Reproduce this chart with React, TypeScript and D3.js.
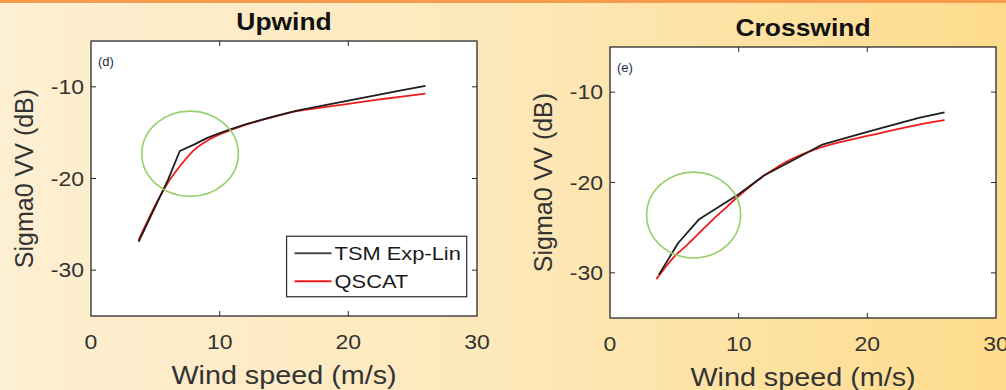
import React from "react";
import * as d3 from "d3";

// Axis ticks
const windTicks = [0, 10, 20, 30];
const sigmaTicks = [-30, -20, -10];

// Upwind: TSM Exp-Lin model and QSCAT GMF (wind m/s, sigma0 dB)
const upTsmWind = [3.7, 6.0, 6.9, 8, 9, 10, 11, 12, 14, 16, 18, 20, 22, 24, 26];
const upTsmSigma = [-26.9, -20.1, -17.0, -16.3, -15.6, -15.05, -14.55, -14.1, -13.3, -12.6, -12.05, -11.5, -10.95, -10.42, -9.9];
const upQscatWind = [3.7, 4, 5, 6, 7, 8, 9, 10, 11, 12, 14, 16, 18, 20, 22, 24, 26];
const upQscatSigma = [-26.7, -25.8, -22.9, -20.4, -18.5, -16.9, -15.9, -15.2, -14.65, -14.15, -13.35, -12.65, -12.25, -11.85, -11.45, -11.1, -10.75];

// Crosswind
const crTsmWind = [3.8, 5.3, 6.9, 10, 12, 14, 16.5, 20, 24, 26];
const crTsmSigma = [-30.2, -26.7, -24.1, -21.3, -19.2, -17.7, -15.8, -14.4, -12.85, -12.25];
const crQscatWind = [3.6, 5, 6, 7, 8, 9, 10, 11, 12, 13, 14, 16, 18, 20, 22, 24, 26];
const crQscatSigma = [-30.7, -28.2, -26.9, -25.5, -24.1, -22.8, -21.5, -20.3, -19.2, -18.3, -17.5, -16.3, -15.5, -14.85, -14.2, -13.6, -13.1];

// Highlighted regions (wind, sigma0 centre; radii in axis units)
const upHighlight = { wind: 7.7, sigma: -17.3, rWind: 3.75, rSigma: 4.65 };
const crHighlight = { wind: 6.5, sigma: -23.6, rWind: 3.65, rSigma: 4.75 };

const legendLabels = ["TSM Exp-Lin", "QSCAT"];

const FONT = "Arial, 'Liberation Sans', Helvetica, sans-serif";
const TSM_COLOR = "#1e1e1e";
const QSCAT_COLOR = "#f21b1b";
const AXIS_COLOR = "#2b2b2b";
const LABEL_COLOR = "#333333";
const STRETCH = 1.15;

type Panel = {
  title: string;
  tag: string;
  left: number;
  top: number;
  width: number;
  height: number;
  tsm: [number, number][];
  qscat: [number, number][];
  highlight: typeof upHighlight;
  legend: boolean;
};

const zip = (a: number[], b: number[]) => a.map((v, i) => [v, b[i]] as [number, number]);

const panels: Panel[] = [
  {
    title: "Upwind",
    tag: "(d)",
    left: 91,
    top: 41,
    width: 386,
    height: 275,
    tsm: zip(upTsmWind, upTsmSigma),
    qscat: zip(upQscatWind, upQscatSigma),
    highlight: upHighlight,
    legend: true,
  },
  {
    title: "Crosswind",
    tag: "(e)",
    left: 610,
    top: 47,
    width: 386,
    height: 271,
    tsm: zip(crTsmWind, crTsmSigma),
    qscat: zip(crQscatWind, crQscatSigma),
    highlight: crHighlight,
    legend: false,
  },
];

function SText(props: {
  x: number;
  y: number;
  size: number;
  anchor?: string;
  weight?: string | number;
  fill?: string;
  rotate?: number;
  sx?: number;
  children: React.ReactNode;
}) {
  const { x, y, size, anchor = "start", weight = "normal", fill = LABEL_COLOR, rotate = 0, sx = STRETCH } = props;
  const t = rotate ? `translate(${x},${y}) scale(${sx},1) rotate(${rotate})` : `translate(${x},${y}) scale(${sx},1)`;
  return (
    <text transform={t} fontFamily={FONT} fontSize={size} fontWeight={weight} textAnchor={anchor} fill={fill}>
      {props.children}
    </text>
  );
}

function ChartPanel({ p }: { p: Panel }) {
  const x = d3.scaleLinear().domain([0, 30]).range([p.left, p.left + p.width]);
  const y = d3.scaleLinear().domain([-35, -5]).range([p.top + p.height, p.top]);
  const line = d3
    .line<[number, number]>()
    .x((d) => x(d[0]))
    .y((d) => y(d[1]));
  const smooth = d3
    .line<[number, number]>()
    .x((d) => x(d[0]))
    .y((d) => y(d[1]))
    .curve(d3.curveMonotoneX);
  const r = p.left + p.width;
  const b = p.top + p.height;
  const tick = 5;
  const h = p.highlight;
  const cx = x(h.wind);
  const cy = y(h.sigma);
  const rx = x(h.wind + h.rWind) - cx;
  const ry = cy - y(h.sigma + h.rSigma);

  const lgX = x(15.2);
  const lgY = y(-26.3);
  const lgW = x(29.2) - lgX;
  const lgH = y(-32.9) - lgY;

  return (
    <g>
      <rect x={p.left} y={p.top} width={p.width} height={p.height} fill="#ffffff" />
      <path d={smooth(p.qscat) ?? ""} fill="none" stroke={QSCAT_COLOR} strokeWidth={1.8} />
      <path d={line(p.tsm) ?? ""} fill="none" stroke={TSM_COLOR} strokeWidth={1.8} strokeLinejoin="round" />
      <ellipse cx={cx} cy={cy} rx={rx} ry={ry} fill="none" stroke="#97cf6a" strokeWidth={1.6} />

      <text x={p.left + 7} y={p.top + 25} fontFamily={FONT} fontSize={13} fill="#1f2a4a">
        {p.tag}
      </text>

      {/* ticks pointing inwards on all four sides */}
      {windTicks.slice(1, -1).map((t) => (
        <g key={"xt" + t}>
          <line x1={x(t)} x2={x(t)} y1={b} y2={b - tick} stroke={AXIS_COLOR} />
          <line x1={x(t)} x2={x(t)} y1={p.top} y2={p.top + tick} stroke={AXIS_COLOR} />
        </g>
      ))}
      {sigmaTicks.map((t) => (
        <g key={"yt" + t}>
          <line x1={p.left} x2={p.left + tick} y1={y(t)} y2={y(t)} stroke={AXIS_COLOR} />
          <line x1={r} x2={r - tick} y1={y(t)} y2={y(t)} stroke={AXIS_COLOR} />
        </g>
      ))}
      <rect x={p.left} y={p.top} width={p.width} height={p.height} fill="none" stroke={AXIS_COLOR} strokeWidth={1.3} />

      {windTicks.map((t) => (
        <SText key={"xl" + t} x={x(t)} y={b + 33} size={20} anchor="middle">
          {t}
        </SText>
      ))}
      {sigmaTicks.map((t) => (
        <SText key={"yl" + t} x={p.left - 7} y={y(t) + 7} size={20} anchor="end">
          {t}
        </SText>
      ))}

      <SText x={(p.left + r) / 2} y={b + 68} size={25} anchor="middle">
        Wind speed (m/s)
      </SText>
      <SText x={p.left - 58} y={(p.top + b) / 2} size={25} anchor="middle" rotate={-90} sx={1}>
        Sigma0 VV (dB)
      </SText>
      <SText x={(p.left + r) / 2} y={p.top - 11} size={23} anchor="middle" weight="bold" fill="#111">
        {p.title}
      </SText>

      {p.legend && (
        <g>
          <rect x={lgX} y={lgY} width={lgW} height={lgH} fill="#ffffff" stroke={AXIS_COLOR} strokeWidth={1.2} />
          {legendLabels.map((lab, i) => {
            const ly = lgY + 17 + i * 28;
            return (
              <g key={lab}>
                <line x1={lgX + 8} x2={lgX + 45} y1={ly} y2={ly} stroke={i === 0 ? "#4a4a4a" : QSCAT_COLOR} strokeWidth={1.8} />
                <SText x={lgX + 48} y={ly + 7} size={19} fill="#1a1a1a">
                  {lab}
                </SText>
              </g>
            );
          })}
        </g>
      )}
    </g>
  );
}

export default function App() {
  return (
    <svg width={1006} height={390} style={{ position: "absolute", left: 0, top: 0, display: "block" }}>
      <defs>
        <linearGradient id="bg" x1="0" y1="0" x2="1" y2="0">
          <stop offset="0" stopColor="#fdefd2" />
          <stop offset="0.45" stopColor="#fde9bd" />
          <stop offset="1" stopColor="#fddc8c" />
        </linearGradient>
      </defs>
      <rect x={0} y={0} width={1006} height={390} fill="url(#bg)" />
      <rect x={0} y={0} width={1006} height={3} fill="#f89b4c" />
      {panels.map((p) => (
        <ChartPanel key={p.title} p={p} />
      ))}
    </svg>
  );
}
